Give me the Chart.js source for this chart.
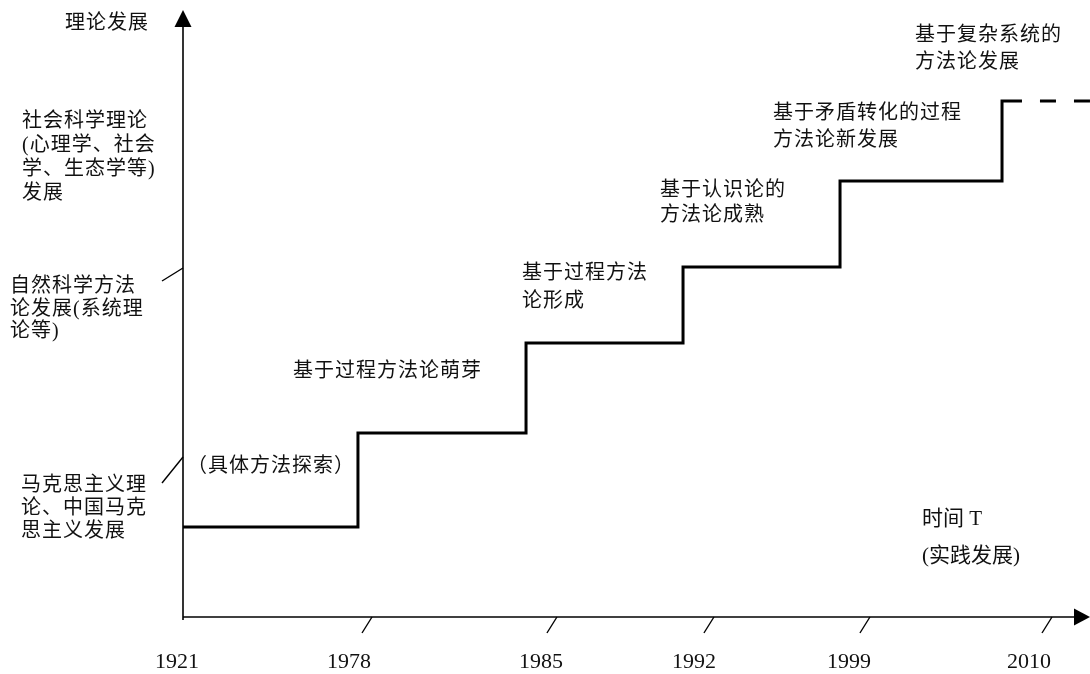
<!DOCTYPE html>
<html lang="zh-CN">
<head>
<meta charset="utf-8">
<title>理论发展与实践发展</title>
<script src="https://cdn.jsdelivr.net/npm/chart.js@4.4.0/dist/chart.umd.min.js"></script>
<style>
  html, body { margin: 0; padding: 0; background: #fff; }
  #contenedor { width: 1090px; height: 674px; }
</style>
</head>
<body>
<div id="contenedor"><canvas id="graficoEtapas" width="1090" height="674"></canvas></div>
<script>
/**
 * Escalera de etapas: teoría (eje Y) frente a tiempo / práctica (eje X).
 * Unidades de ambos ejes: 0-100 (posición relativa a lo largo de cada eje).
 */

// ---- Datos ----
const inicioEtapa = [0, 19.29, 37.82, 55.13, 72.44, 90.30];   // x donde empieza cada peldaño
const nivelEtapa  = [14.83, 30.31, 45.14, 57.66, 71.83, 85.01]; // altura de cada peldaño
const finTramoSolido = 92.5;   // a partir de aquí el último peldaño es discontinuo
const finEje = 100;

const anios = ['1921', '1978', '1985', '1992', '1999', '2010'];
const posicionAnios = [-0.66, 18.30, 39.47, 56.34, 73.43, 93.27];

const marcasX = [20.84, 41.23, 58.54, 75.74, 95.81];
const marcasY = [57.50, 26.36];

const textos = [
    ['理论发展'],
    ['社会科学理论', '(心理学、社会', '学、生态学等)', '发展'],
    ['自然科学方法', '论发展(系统理', '论等)'],
    ['马克思主义理', '论、中国马克', '思主义发展'],
    ['（具体方法探索）'],
    ['基于过程方法论萌芽'],
    ['基于过程方法', '论形成'],
    ['基于认识论的', '方法论成熟'],
    ['基于矛盾转化的过程', '方法论新发展'],
    ['基于复杂系统的', '方法论发展'],
    ['时间 T', '(实践发展)']
];
// [x, y] en unidades de los ejes (borde izquierdo, centro de la primera línea)
const posicionTextos = [
    [-13.01, 97.69], [-17.75, 81.55], [-19.07, 54.37], [-17.86, 21.58],
    [0.44, 24.71], [12.13, 40.36], [37.38, 56.51], [52.59, 70.18],
    [65.05, 82.87], [80.71, 95.72], [81.48, 16.14]
];

// ---- Estilo ----
const interlineado = [0, 24, 22.5, 23, 0, 0, 28, 25, 27, 27, 37];
const inclinacionMarcasY = [13, 26];
const FUENTE = '"Liberation Serif", "Noto Sans CJK SC", serif';

document.addEventListener('DOMContentLoaded', () => {
    inicializarGraficoEtapas();
});

function linea(ctx, x1, y1, x2, y2) {
    ctx.beginPath();
    ctx.moveTo(x1, y1);
    ctx.lineTo(x2, y2);
    ctx.stroke();
}

// Ejes con flecha, marcas inclinadas y todos los textos
const pluginEjesYTextos = {
    id: 'ejesYTextos',
    beforeDatasetsDraw(chart) {
        const { ctx, scales: { x, y } } = chart;
        const x0 = x.getPixelForValue(0);
        const y0 = y.getPixelForValue(0);
        const xFin = x.getPixelForValue(finEje);
        const yFin = y.getPixelForValue(finEje);

        ctx.save();
        ctx.strokeStyle = '#000';
        ctx.fillStyle = '#000';
        ctx.lineWidth = 1.6;

        // eje Y
        linea(ctx, x0, y0 + 3, x0, yFin + 12);
        ctx.beginPath();
        ctx.moveTo(x0, yFin);
        ctx.lineTo(x0 - 8.5, yFin + 17);
        ctx.lineTo(x0 + 8.5, yFin + 17);
        ctx.closePath();
        ctx.fill();

        // eje X
        linea(ctx, x0, y0, xFin - 10, y0);
        ctx.beginPath();
        ctx.moveTo(xFin, y0);
        ctx.lineTo(xFin - 16, y0 - 8.5);
        ctx.lineTo(xFin - 16, y0 + 8.5);
        ctx.closePath();
        ctx.fill();

        // marcas inclinadas
        ctx.lineWidth = 1.4;
        marcasX.forEach(v => {
            const px = x.getPixelForValue(v);
            linea(ctx, px, y0, px - 10, y0 + 16);
        });
        marcasY.forEach((v, i) => {
            const py = y.getPixelForValue(v);
            linea(ctx, x0, py, x0 - 21, py + inclinacionMarcasY[i]);
        });
        ctx.restore();
    },
    afterDatasetsDraw(chart) {
        const { ctx, scales: { x, y } } = chart;
        ctx.save();
        ctx.fillStyle = '#111';
        ctx.textBaseline = 'middle';

        // años bajo el eje X
        ctx.font = '22px ' + FUENTE;
        ctx.textAlign = 'center';
        anios.forEach((a, i) => {
            ctx.fillText(a, x.getPixelForValue(posicionAnios[i]), 662);
        });

        // textos de etapas y de los ejes
        ctx.textAlign = 'left';
        textos.forEach((lineas, i) => {
            const ultimo = i === textos.length - 1;
            ctx.font = (ultimo ? '21px ' : '20px ') + FUENTE;
            ctx.letterSpacing = ultimo ? '0px' : '1px';
            const px = x.getPixelForValue(posicionTextos[i][0]);
            const py = y.getPixelForValue(posicionTextos[i][1]);
            lineas.forEach((t, j) => {
                ctx.fillText(t, px, py + j * interlineado[i]);
            });
        });
        ctx.restore();
    }
};

function inicializarGraficoEtapas() {
    const ctx = document.getElementById('graficoEtapas');
    if (!ctx) {
        console.error('Canvas graficoEtapas no encontrado');
        return;
    }

    const ultimoNivel = nivelEtapa[nivelEtapa.length - 1];
    const puntosEscalera = inicioEtapa.map((v, i) => ({ x: v, y: nivelEtapa[i] }));
    puntosEscalera.push({ x: finTramoSolido, y: ultimoNivel });
    const puntosDiscontinuos = [
        { x: finTramoSolido, y: ultimoNivel },
        { x: finEje, y: ultimoNivel }
    ];

    new Chart(ctx, {
        type: 'line',
        data: {
            datasets: [{
                data: puntosEscalera,
                stepped: 'before', // horizontal primero, luego el salto vertical
                borderColor: '#000',
                borderWidth: 3,
                borderJoinStyle: 'miter',
                borderCapStyle: 'butt',
                pointRadius: 0,
                fill: false,
                clip: false
            }, {
                data: puntosDiscontinuos,
                borderColor: '#000',
                borderWidth: 3,
                borderDash: [16, 18],
                borderDashOffset: 16,
                borderCapStyle: 'butt',
                pointRadius: 0,
                fill: false,
                clip: false
            }]
        },
        options: {
            responsive: false,
            animation: false,
            layout: { padding: { left: 183, right: 0, top: 10, bottom: 57 } },
            plugins: {
                legend: { display: false },
                tooltip: { enabled: false }
            },
            scales: {
                x: { type: 'linear', min: 0, max: finEje, display: false },
                y: { type: 'linear', min: 0, max: finEje, display: false }
            }
        },
        plugins: [pluginEjesYTextos]
    });
}
</script>
</body>
</html>
